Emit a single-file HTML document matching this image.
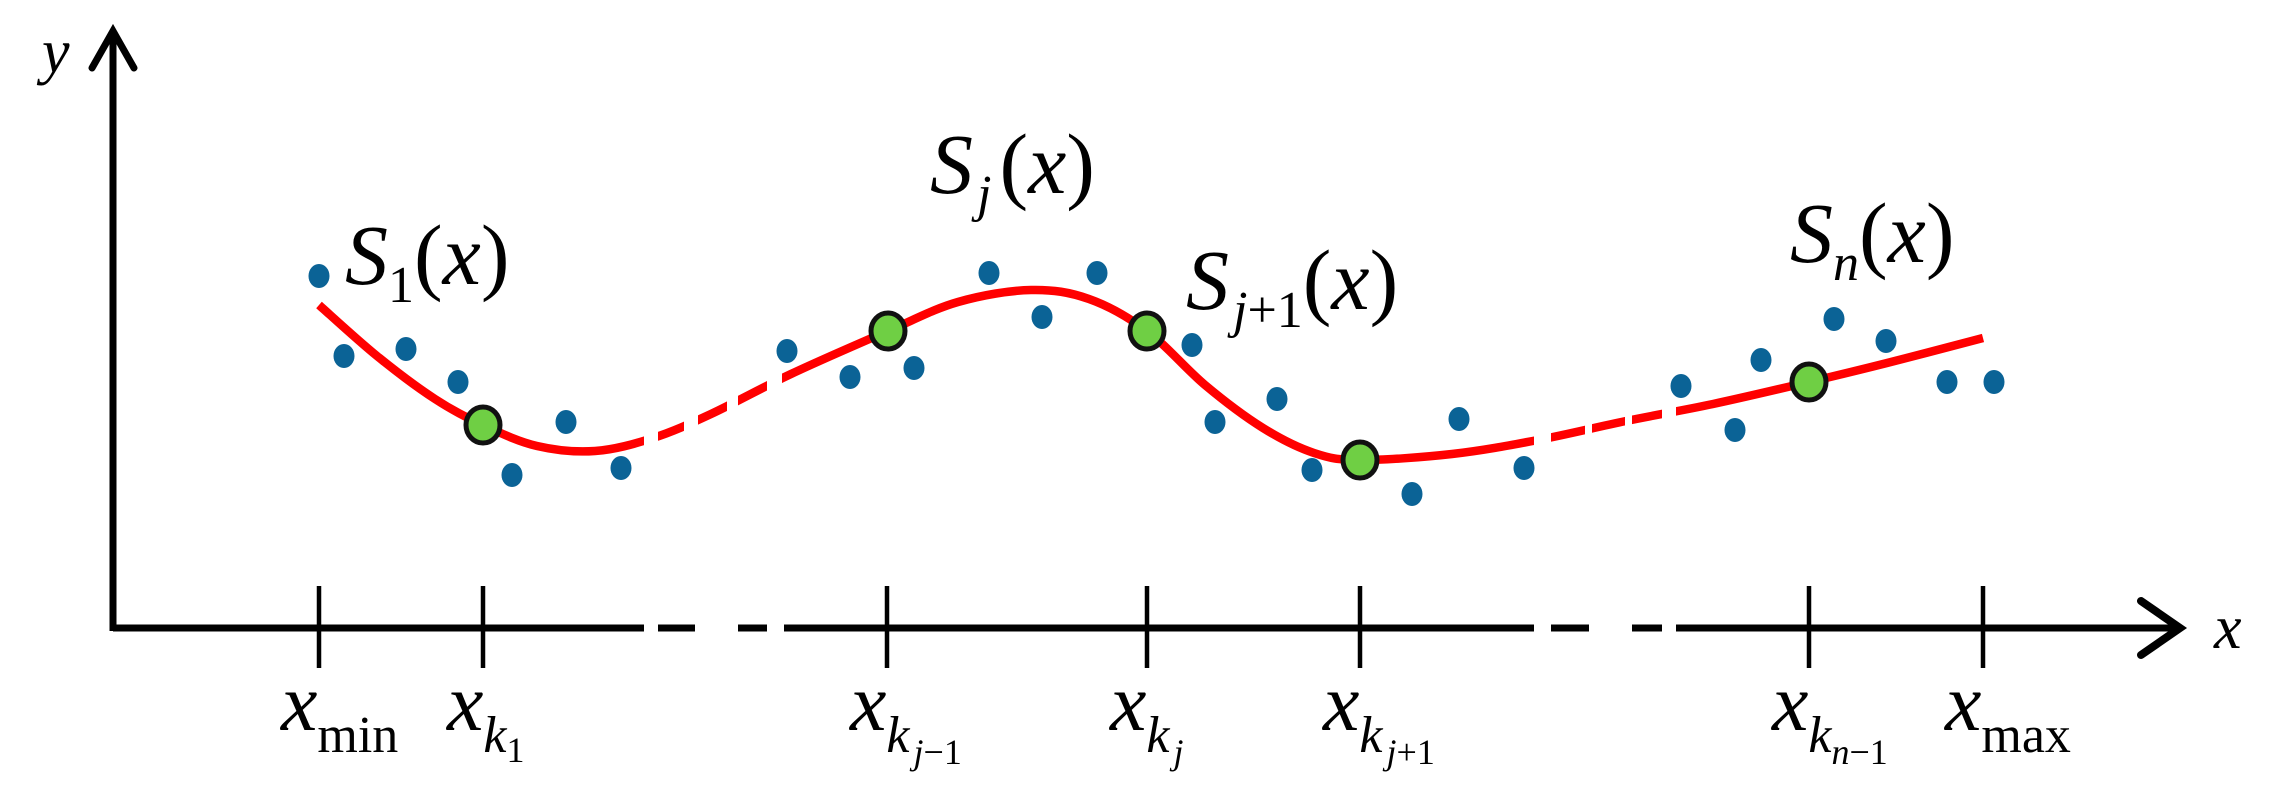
<!DOCTYPE html>
<html><head><meta charset="utf-8"><style>
html,body{margin:0;padding:0;background:#fff;}
svg{display:block;}
svg text, svg tspan{font-family:"Liberation Serif","DejaVu Serif",serif;fill:#000;}
.it{font-style:italic;}
</style></head><body>
<svg id="chart" width="2276" height="787" viewBox="0 0 2276 787" xmlns="http://www.w3.org/2000/svg" font-family="Liberation Serif, DejaVu Serif, serif">
<defs>
<clipPath id="curveClip"></clipPath>
</defs>
<g id="axes"></g>
<g id="curve"></g>
<g id="dots"></g>
<g id="knots"></g>
<g id="labels">
<text class="it" x="42" y="72" font-size="62">y</text>
<text class="it" x="2214" y="648" font-size="62">x</text>
<text x="345" y="284" font-size="86"><tspan class="it">S</tspan><tspan font-size="52" dy="18">1</tspan><tspan dy="-18">(</tspan><tspan class="it">x</tspan>)</text>
<text x="930" y="193" font-size="86"><tspan class="it">S</tspan><tspan class="it" font-size="52" dy="18" dx="4">j</tspan><tspan dy="-18" dx="8">(</tspan><tspan class="it">x</tspan>)</text>
<text x="1186" y="309" font-size="86"><tspan class="it">S</tspan><tspan class="it" font-size="52" dy="18" dx="4">j</tspan><tspan font-size="52">+1</tspan><tspan dy="-18">(</tspan><tspan class="it">x</tspan>)</text>
<text x="1790" y="262" font-size="86"><tspan class="it">S</tspan><tspan class="it" font-size="52" dy="18">n</tspan><tspan dy="-18">(</tspan><tspan class="it">x</tspan>)</text>
</g>
<g id="ticklabels">
<text x="281" y="730" font-size="82"><tspan class="it">x</tspan><tspan font-size="52" dy="22">min</tspan></text>
<text x="447" y="730" font-size="82"><tspan class="it">x</tspan><tspan class="it" font-size="52" dy="22">k</tspan><tspan font-size="36" dy="10">1</tspan></text>
<text x="850" y="730" font-size="82"><tspan class="it">x</tspan><tspan class="it" font-size="52" dy="22">k</tspan><tspan class="it" font-size="36" dy="12" dx="4">j</tspan><tspan font-size="36">−1</tspan></text>
<text x="1110" y="730" font-size="82"><tspan class="it">x</tspan><tspan class="it" font-size="52" dy="22">k</tspan><tspan class="it" font-size="36" dy="12" dx="4">j</tspan></text>
<text x="1323" y="730" font-size="82"><tspan class="it">x</tspan><tspan class="it" font-size="52" dy="22">k</tspan><tspan class="it" font-size="36" dy="12" dx="4">j</tspan><tspan font-size="36">+1</tspan></text>
<text x="1772" y="730" font-size="82"><tspan class="it">x</tspan><tspan class="it" font-size="52" dy="22">k</tspan><tspan class="it" font-size="36" dy="12">n</tspan><tspan font-size="36">−1</tspan></text>
<text x="1945" y="730" font-size="82"><tspan class="it">x</tspan><tspan font-size="52" dy="22">max</tspan></text>
</g>
</svg>
<script>
// data units: x px = 113 + 10*v, y px = 628 - 10*v
const curveX = [20.6,26.4,32.2,37,42.4,48.2,54,59.8,67.8,77.5,84.5,91.8,97.6,103.4,109.2,115,120.1,124.7,133.9,142.5,151.3,160,169.6,177.4,187];
const curveY = [32.3,27.2,22.9,20.3,18.2,17.7,19,21.4,25.4,29.7,32.6,33.8,32.9,29.7,24.3,20,17.5,16.8,17.4,18.8,20.7,22.4,24.6,26.5,29];
const dotX = [20.6,23.1,29.3,34.5,39.9,45.3,50.8,67.4,73.7,80.1,87.6,92.9,98.4,107.9,110.2,116.4,119.9,129.9,134.6,141.1,156.8,162.2,164.8,172.1,177.3,183.4,188.1];
const dotY = [35.2,27.2,27.9,24.6,15.3,20.6,16,27.7,25.1,26,35.5,31.1,35.5,28.3,20.6,22.9,15.8,13.4,20.9,16,24.2,19.8,26.8,30.9,28.7,24.6,24.6];
const knotX = [37,77.5,103.4,124.7,169.6];
const knotY = [20.3,29.7,29.7,16.8,24.6];
const tickX = [20.6,37,77.4,103.4,124.7,169.6,187];
const solidRanges = [[0,53.1],[54.5,57.1],[58.5,61.4],[62.5,65.4],[66.9,142.1],[143.8,147.2],[147.9,151.2],[151.9,154.9],[156.3,220]];
const axisRanges = [[0,53.1],[54.5,58.2],[62.5,65.4],[67.1,142.1],[143.8,147.6],[151.9,154.9],[156.3,206.9]];

const X = v => 113 + 10*v;
const Y = v => 628 - 10*v;
const NS = 'http://www.w3.org/2000/svg';
function mk(tag, attrs, parent){const e=document.createElementNS(NS,tag);for(const k in attrs)e.setAttribute(k,attrs[k]);parent.appendChild(e);return e;}

const axes = document.getElementById('axes');
const yAxis = mk('path',{d:`M${X(0)},${Y(0)+3} L${X(0)},31`,stroke:'#000','stroke-width':7,fill:'none'},axes);


const yArrow = mk('path',{d:`M${X(0)-21},68 L${X(0)},31 L${X(0)+21},68`,stroke:'#000','stroke-width':7,fill:'none','stroke-linecap':'round'},axes);


axisRanges.forEach(r=>{
  const s = mk('line',{x1:X(r[0]),x2:Math.min(X(r[1]),2180),y1:Y(0),y2:Y(0),stroke:'#000','stroke-width':7},axes);
  
  
});
const xArrow = mk('path',{d:`M2141,${Y(0)-27} L2180,${Y(0)} L2141,${Y(0)+27}`,stroke:'#000','stroke-width':8,fill:'none','stroke-linecap':'round'},axes);


tickX.forEach(v=>{
  const t = mk('line',{x1:X(v),x2:X(v),y1:586,y2:668,stroke:'#000','stroke-width':4.5},axes);
  
  
});

const clip = document.getElementById('curveClip');
solidRanges.forEach(r=>{ mk('rect',{x:X(r[0]),y:0,width:X(r[1])-X(r[0]),height:787},clip); });
const pts = curveX.map((v,i)=>[X(v),Y(curveY[i])]);
let d = `M${pts[0][0]},${pts[0][1]}`;
for(let i=0;i<pts.length-1;i++){
  const p0=pts[Math.max(0,i-1)],p1=pts[i],p2=pts[i+1],p3=pts[Math.min(pts.length-1,i+2)];
  const c1=[p1[0]+(p2[0]-p0[0])/6,p1[1]+(p2[1]-p0[1])/6];
  const c2=[p2[0]-(p3[0]-p1[0])/6,p2[1]-(p3[1]-p1[1])/6];
  d+=` C${c1[0]},${c1[1]} ${c2[0]},${c2[1]} ${p2[0]},${p2[1]}`;
}
const cp = mk('path',{d:d,stroke:'#ff0000','stroke-width':8.5,fill:'none','clip-path':'url(#curveClip)'},document.getElementById('curve'));



const dots = document.getElementById('dots');
dotX.forEach((v,i)=>{
  const c = mk('ellipse',{cx:X(v),cy:Y(dotY[i]),rx:10.5,ry:12,fill:'#0b6396'},dots);
  
  
});
const knots = document.getElementById('knots');
knotX.forEach((v,i)=>{
  const c = mk('ellipse',{cx:X(v),cy:Y(knotY[i]),rx:17,ry:18,fill:'#6fcf44',stroke:'#111','stroke-width':5},knots);
  
  
});
</script>
</body></html>
